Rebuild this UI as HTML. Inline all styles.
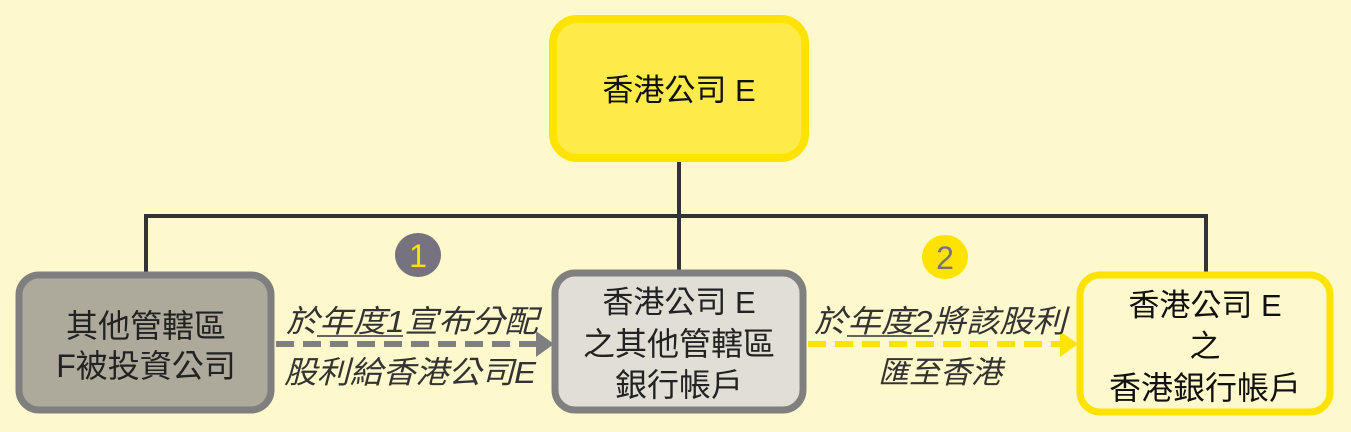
<!DOCTYPE html>
<html><head><meta charset="utf-8"><style>
html,body{margin:0;padding:0;background:#FEF9CC;}
svg{display:block}
text{font-family:"Liberation Sans","Noto Sans CJK TC",sans-serif;}
</style></head><body>
<svg width="1351" height="432" viewBox="0 0 1351 432" xmlns="http://www.w3.org/2000/svg">
<rect width="1351" height="432" fill="#FEF9CC"/>
<g stroke="#333" stroke-width="4" fill="none">
<line x1="679" y1="158" x2="679" y2="274"/>
<line x1="146" y1="216" x2="1206" y2="216"/>
<line x1="146" y1="214" x2="146" y2="274"/>
<line x1="1206" y1="214" x2="1206" y2="276"/>
</g>
<rect x="553" y="19" width="252" height="139" rx="24" fill="#FDEB4A" stroke="#FFE300" stroke-width="8"/>
<text x="679" y="101" font-size="31" text-anchor="middle" fill="#111">香港公司 E</text>
<rect x="19" y="275" width="252" height="135" rx="20" fill="#ADAA9C" stroke="#7F7F7F" stroke-width="7"/>
<text x="146" y="337" font-size="32" text-anchor="middle" fill="#222">其他管轄區</text>
<text x="146" y="377" font-size="32" text-anchor="middle" fill="#222">F被投資公司</text>
<rect x="555" y="273" width="248" height="137" rx="20" fill="#E1DED6" stroke="#808080" stroke-width="7"/>
<text x="679" y="313" font-size="31" text-anchor="middle" fill="#222">香港公司 E</text>
<text x="679" y="355" font-size="32" text-anchor="middle" fill="#222">之其他管轄區</text>
<text x="679" y="396" font-size="32" text-anchor="middle" fill="#222">銀行帳戶</text>
<rect x="1080" y="275" width="250" height="137" rx="20" fill="#FEF9CC" stroke="#FFE300" stroke-width="7"/>
<text x="1205" y="316" font-size="31" text-anchor="middle" fill="#111">香港公司 E</text>
<text x="1205" y="357" font-size="31" text-anchor="middle" fill="#111">之</text>
<text x="1205" y="399" font-size="32" text-anchor="middle" fill="#111">香港銀行帳戶</text>
<line x1="276" y1="344" x2="540" y2="344" stroke="#7F7F7F" stroke-width="6" stroke-dasharray="18,9"/>
<polygon points="536,331 554,344 536,357" fill="#7F7F7F"/>
<line x1="808" y1="344" x2="1064" y2="344" stroke="#FFE300" stroke-width="6" stroke-dasharray="18,9"/>
<polygon points="1060,331 1078,344 1060,357" fill="#FFE300"/>
<ellipse cx="418" cy="255" rx="23" ry="22" fill="#777280"/>
<text x="418" y="267" font-size="32" text-anchor="middle" fill="#FFE300">1</text>
<ellipse cx="945" cy="257" rx="23" ry="22" fill="#FFE300"/>
<text x="945" y="269" font-size="32" text-anchor="middle" fill="#777280">2</text>
<g font-size="31" font-style="italic" fill="#333" text-anchor="middle">
<text x="412" y="332" textLength="252" lengthAdjust="spacingAndGlyphs">於年度1宣布分配</text>
<text x="410" y="383" textLength="252" lengthAdjust="spacingAndGlyphs">股利給香港公司E</text>
<text x="940" y="332" textLength="252" lengthAdjust="spacingAndGlyphs">於年度2將該股利</text>
<text x="940" y="383">匯至香港</text>
</g>
<line x1="317" y1="336" x2="403" y2="336" stroke="#333" stroke-width="1.5"/>
<line x1="847" y1="336" x2="933" y2="336" stroke="#333" stroke-width="1.5"/>
</svg>
</body></html>
